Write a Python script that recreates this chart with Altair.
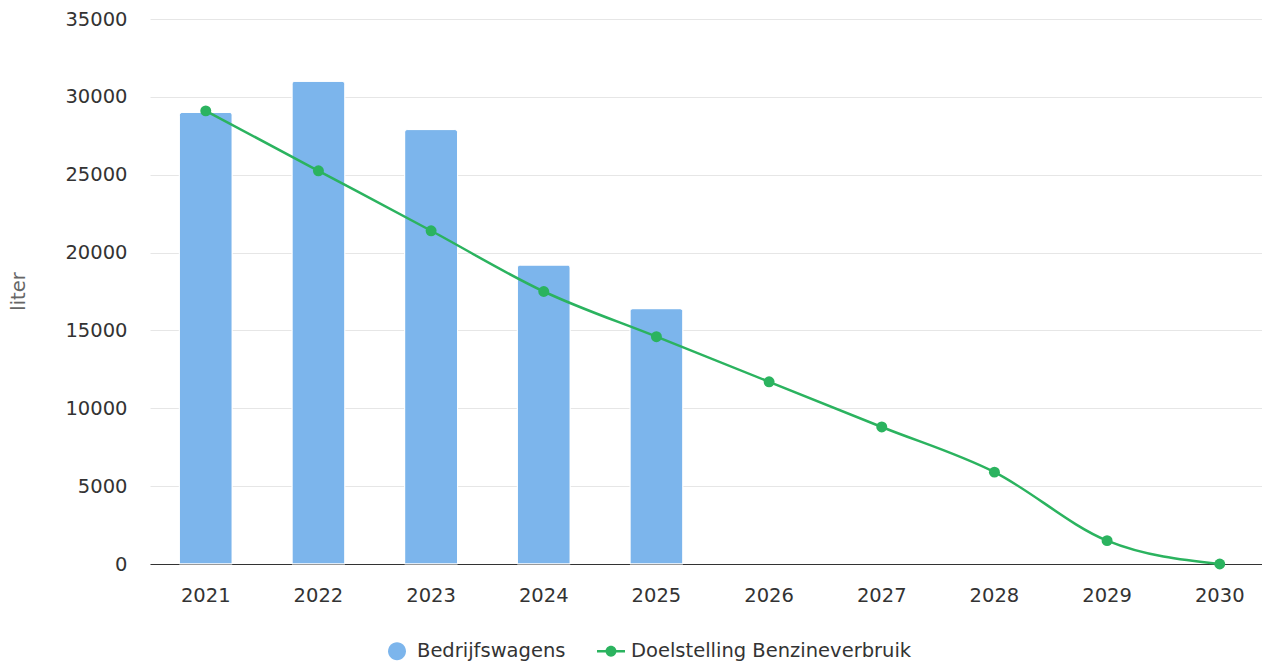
import altair as alt
import pandas as pd

years = ["2021", "2022", "2023", "2024", "2025", "2026", "2027", "2028", "2029", "2030"]
bar_years = ["2021", "2022", "2023", "2024", "2025"]
bedrijfswagens = [29000, 31000, 27900, 19200, 16400]
doelstelling = [29100, 25250, 21400, 17500, 14600, 11700, 8800, 5900, 1500, 0]
series_names = ["Bedrijfswagens", "Doelstelling Benzineverbruik"]
series_colors = ["#7cb5ec", "#2bb35f"]
y_ticks = [0, 5000, 10000, 15000, 20000, 25000, 30000, 35000]

bar_df = pd.DataFrame({"year": bar_years, "value": bedrijfswagens})
line_df = pd.DataFrame({"year": years, "value": doelstelling})
legend_df = pd.DataFrame({"year": [years[0]] * 2, "value": [0, 0], "series": series_names})

FONT = "DejaVu Sans"
FS = 19.5

x_enc = alt.X(
    "year:O",
    scale=alt.Scale(domain=years, paddingInner=0.53, paddingOuter=0.2, align=0.65),
    axis=alt.Axis(title=None, labelAngle=0, ticks=False, grid=False, domainColor="#333333",
                  domainWidth=1, labelFontSize=FS, labelColor="#333333", labelPadding=22,
                  labelFont=FONT),
)
y_enc = alt.Y(
    "value:Q",
    scale=alt.Scale(domain=[0, 35000], nice=False),
    axis=alt.Axis(title="liter", values=y_ticks, format="d", grid=True, gridColor="#e6e6e6",
                  domain=False, ticks=False, labelPadding=23, labelFontSize=FS,
                  labelColor="#333333", labelFont=FONT, titleFont=FONT, titleFontSize=FS,
                  titleFontWeight="normal", titleColor="#666666", titleX=-132, titleY=272,
                  titleBaseline="middle", titleAngle=270),
)

bars = alt.Chart(bar_df).mark_bar(
    color=series_colors[0], stroke="white", strokeWidth=1,
    cornerRadiusTopLeft=3, cornerRadiusTopRight=3,
).encode(x=x_enc, y=y_enc)

line = alt.Chart(line_df).mark_line(
    interpolate="monotone", color=series_colors[1], strokeWidth=2.5
).encode(x=x_enc, y=y_enc)

points = alt.Chart(line_df).mark_point(
    filled=True, color=series_colors[1], size=120, opacity=1
).encode(x=x_enc, y=y_enc)

circle_path = "M0.64,0 A0.64,0.64 0 1,1 -0.64,0 A0.64,0.64 0 1,1 0.64,0 Z"
line_dot_path = ("M-1,-0.09 L1,-0.09 L1,0.09 L-1,0.09 Z "
                 "M0.39,0 A0.39,0.39 0 1,1 -0.39,0 A0.39,0.39 0 1,1 0.39,0 Z")

leg = alt.Legend(title=None, orient="none", legendX=233, legendY=618, direction="horizontal",
                 symbolSize=784, symbolOpacity=1, symbolStrokeWidth=0, labelFontSize=FS,
                 labelFont=FONT, labelColor="#333333", labelOffset=6, columnPadding=31,
                 padding=0, labelLimit=600)

legend_layer = alt.Chart(legend_df).mark_point(filled=True, opacity=0).encode(
    x=x_enc, y=y_enc,
    color=alt.Color("series:N", scale=alt.Scale(domain=series_names, range=series_colors), legend=leg),
    shape=alt.Shape("series:N", scale=alt.Scale(domain=series_names, range=[circle_path, line_dot_path]), legend=leg),
)

chart = alt.layer(bars, line, points, legend_layer).properties(
    width=1112, height=545,
    autosize=alt.AutoSizeParams(type="none"),
    padding={"left": 142, "top": 11, "right": 0, "bottom": 100},
).configure(
    font=FONT, view=alt.ViewConfig(stroke="transparent", strokeWidth=0)
)

chart.save("out.html", embed_options={"renderer": "svg", "actions": False})
